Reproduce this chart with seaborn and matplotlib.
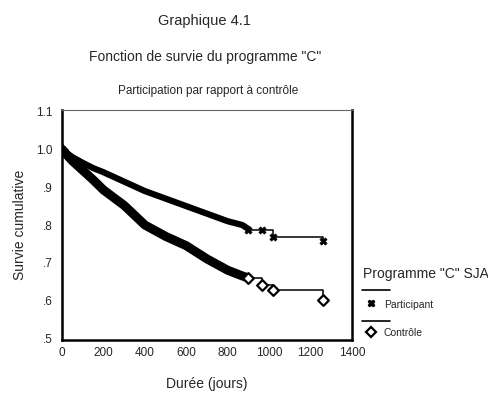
import matplotlib
matplotlib.use("Agg")
import matplotlib.pyplot as plt
import seaborn as sns
import pandas as pd
from matplotlib.lines import Line2D

# dense part of the curves (censored marks packed together)
part_t = [0, 50, 100, 150, 200, 300, 400, 450, 500, 600, 700, 750, 800, 870, 898]
part_s = [1.0, 0.98, 0.965, 0.951, 0.94, 0.915, 0.89, 0.88, 0.87, 0.85, 0.83, 0.82, 0.81, 0.80, 0.79]
ctrl_t = [0, 50, 100, 150, 200, 300, 400, 450, 500, 600, 700, 750, 800, 870, 898]
ctrl_s = [1.0, 0.97, 0.945, 0.92, 0.893, 0.852, 0.80, 0.785, 0.77, 0.745, 0.71, 0.695, 0.68, 0.665, 0.66]

# sparse tail: steps with censored marks
part_tail_t = [898, 966, 1019, 1260]
part_tail_s = [0.787, 0.786, 0.769, 0.757]
ctrl_tail_t = [898, 966, 1019, 1260]
ctrl_tail_s = [0.66, 0.641, 0.627, 0.60]

xticks = [0, 200, 400, 600, 800, 1000, 1200, 1400]
yticks = [0.5, 0.6, 0.7, 0.8, 0.9, 1.0, 1.1]
ytick_labels = [".5", ".6", ".7", ".8", ".9", "1.0", "1.1"]

sns.set_style("white")
plt.rcParams['font.family'] = ['Liberation Sans', 'DejaVu Sans']

fig = plt.figure(figsize=(4.88, 3.95), dpi=100)
ax = fig.add_axes([62 / 488, 55 / 395, 290 / 488, 230 / 395])

dense = pd.DataFrame({"t": part_t + ctrl_t, "s": part_s + ctrl_s,
                      "g": ["Participant"] * len(part_t) + ["Contrôle"] * len(ctrl_t)})
sns.lineplot(data=dense[dense.g == "Participant"], x="t", y="s", color="black",
             linewidth=4.5, ax=ax, solid_capstyle="round")
sns.lineplot(data=dense[dense.g == "Contrôle"], x="t", y="s", color="black",
             linewidth=6.5, ax=ax, solid_capstyle="round")

ax.plot(part_tail_t, part_tail_s, drawstyle="steps-post", color="black", lw=1.1)
ax.plot(ctrl_tail_t, ctrl_tail_s, drawstyle="steps-post", color="black", lw=1.1)
sns.scatterplot(x=part_tail_t, y=part_tail_s, marker="X", color="black", s=28,
                edgecolor="black", ax=ax)
sns.scatterplot(x=ctrl_tail_t, y=ctrl_tail_s, marker="D", facecolor="white",
                edgecolor="black", linewidth=1.6, s=30, ax=ax, zorder=5)
ax.plot([0], [1.0], marker="D", color="black", ms=6)

ax.set_xlim(0, 1400)
ax.set_ylim(0.495, 1.105)
ax.set_xticks(xticks)
ax.set_xticklabels([str(x) for x in xticks], fontsize=8.5)
ax.set_yticks(yticks)
ax.set_yticklabels(ytick_labels, fontsize=8.5)
ax.tick_params(axis="y", length=0, pad=7)
ax.tick_params(axis="x", length=0, pad=5)
ax.set_xlabel("Durée (jours)", fontsize=10, labelpad=13)
ax.set_ylabel("Survie cumulative", fontsize=10, labelpad=6)
for side in ["left", "bottom", "right"]:
    ax.spines[side].set_linewidth(1.8)
    ax.spines[side].set_color("black")
ax.spines["top"].set_linewidth(0.8)
ax.spines["top"].set_color("#666666")

fig.text(204 / 488, 1 - 21 / 395, "Graphique 4.1", ha="center", va="center", fontsize=10.5)
fig.text(205 / 488, 1 - 57 / 395, 'Fonction de survie du programme "C"', ha="center",
         va="center", fontsize=10)
fig.text(208 / 488, 1 - 91 / 395, "Participation par rapport à contrôle", ha="center",
         va="center", fontsize=8.5)

# legend drawn by hand
fig.text(363 / 488, 1 - 274 / 395, 'Programme "C" SJA', ha="left", va="center", fontsize=10)
fig.add_artist(Line2D([362 / 488, 390 / 488], [1 - 290 / 395] * 2, color="black", lw=1.2))
fig.add_artist(Line2D([371 / 488], [1 - 303 / 395], marker="X", color="black", ms=5))
fig.text(384 / 488, 1 - 305 / 395, "Participant", ha="left", va="center", fontsize=7.5)
fig.add_artist(Line2D([362 / 488, 390 / 488], [1 - 321 / 395] * 2, color="black", lw=1.2))
fig.add_artist(Line2D([371 / 488], [1 - 332 / 395], marker="D", color="black",
                      mfc="white", mew=1.6, ms=5))
fig.text(384 / 488, 1 - 333 / 395, "Contrôle", ha="left", va="center", fontsize=7.5)

fig.savefig("out.png", dpi=100)
